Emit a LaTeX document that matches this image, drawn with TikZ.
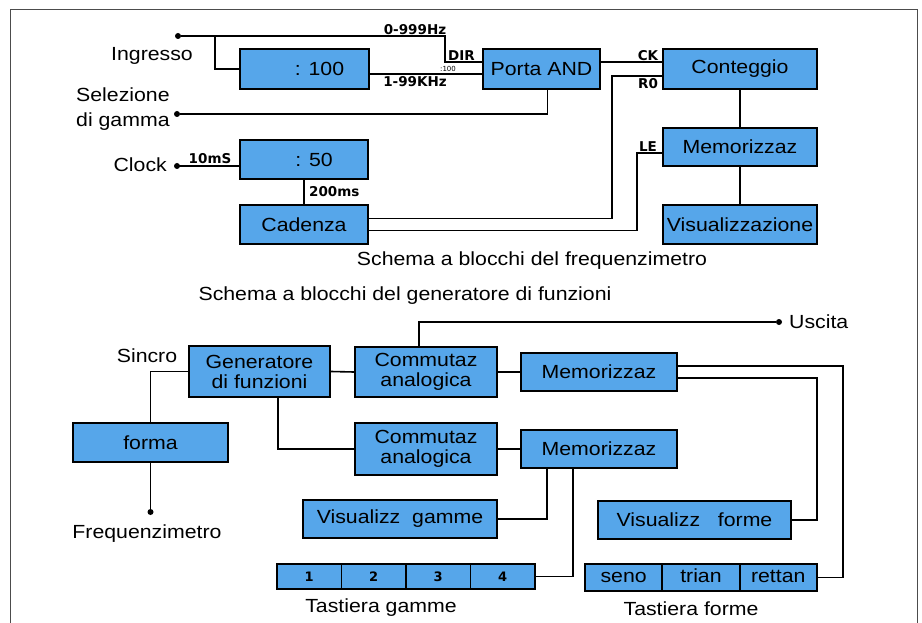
\documentclass[tikz,border=0pt]{standalone}
\usepackage{fontspec}
\setmainfont[FakeStretch=1.12]{Liberation Sans}
\newfontfamily\tagfont{DejaVu Sans}
\usepackage{xcolor}
\usetikzlibrary{positioning,calc}
\definecolor{boxblue}{RGB}{86,166,234}

\begin{document}
\begin{tikzpicture}[
    x=1pt, y=-1pt,
    block/.style={rectangle, draw, line width=1.8pt, fill=boxblue, inner sep=1pt, align=center,
                  font=\fontsize{19}{20}\selectfont},
    key/.style={block, text height=13pt, text depth=4pt},
    wire/.style={line width=1.6pt},
    dot/.style={circle, fill, inner sep=0pt, minimum size=6pt},
    txt/.style={font=\fontsize{19}{20}\selectfont, inner sep=1pt},
    tag/.style={font=\tagfont\bfseries\fontsize{13.5}{14}\selectfont, inner sep=1pt}
]
    \useasboundingbox (0,0) rectangle (922,623);
    \draw[line width=1pt, black!70] (10,623) -- (10,10) -- (917,10) -- (917,623);

    % frequenzimetro
    \node[block, minimum width=129pt, minimum height=40pt] (div100) at (304.5,69) {\hspace*{30pt}: 100};
    \node[block, minimum width=117pt, minimum height=40pt] (porta) at (541.5,69) {Porta AND};
    \node[block, minimum width=154pt, minimum height=40pt] (conteggio) at (740,69) {Conteggio};
    \node[block, minimum width=154pt, minimum height=38pt] (memo) at (740,147) {Memorizzaz};
    \node[block, minimum width=154pt, minimum height=39pt] (visual) at (740,224.5) {Visualizzazione};
    \node[block, minimum width=128pt, minimum height=39pt] (div50) at (304,159.5) {\hspace*{20pt}: 50};
    \node[block, minimum width=128pt, minimum height=39pt] (cadenza) at (304,224.5) {Cadenza};

    \node[dot] (ing) at (178,36) {};
    \node[dot] (sel) at (177,114) {};
    \node[dot] (clk) at (177,166) {};
    \node[txt, anchor=base] (ingtxt) at (152,61) {Ingresso};
    \node[txt, anchor=base west] (seltxt) at (75,102) {Selezione};
    \node[txt, anchor=base west] (gamtxt) at (75,127) {di gamma};
    \node[txt, anchor=base east] (clktxt) at (168,172) {Clock};

    \draw[wire] (ing) -| ([xshift=-37pt,yshift=7pt]porta.west) -- ([yshift=7pt]porta.west);
    \draw[wire] ([xshift=37pt]ing.center) |- (div100.west);
    \draw[wire] ([yshift=-5pt]div100.east) -- ([yshift=-5pt]porta.west);
    \draw[wire] (sel) -| ([xshift=6pt]porta.south);
    \draw[wire] ([yshift=7pt]porta.east) -- ([yshift=7pt]conteggio.west);
    \draw[wire] ([yshift=-7pt]conteggio.west) -- ++(-50,0) |- ([yshift=6pt]cadenza.east);
    \draw[wire] ([yshift=-6pt]memo.west) -- ++(-25,0) |- ([yshift=-6pt]cadenza.east);
    \draw[wire] (conteggio) -- (memo);
    \draw[wire] (memo) -- (visual);
    \draw[wire] (clk.center) -- (clk.center -| div50.west);
    \draw[wire] (div50) -- (cadenza);

    \node[tag, anchor=south] (hzlow) at (415,36) {0-999Hz};
    \node[tag, anchor=north] (hzhigh) at (415,75) {1-99KHz};
    \node[tag, anchor=south west] (dir) at (447,62) {DIR};
    \node[font=\tagfont\fontsize{7}{7}\selectfont, inner sep=0pt] (sub100) at (448,69) {:100};
    \node[tag, anchor=south] (ck) at (648,62) {CK};
    \node[tag, anchor=north] (rz) at (648,77) {R0};
    \node[tag, anchor=south] (le) at (648,153) {LE};
    \node[tag, anchor=south] (tenms) at (210,165) {10mS};
    \node[tag, anchor=west] (twoms) at (308,192) {200ms};

    \node[txt] (cap1) at (532,261) {Schema a blocchi del frequenzimetro};

    % generatore di funzioni
    \node[txt] (cap2) at (405,296) {Schema a blocchi del generatore di funzioni};

    \node[block, minimum width=141pt, minimum height=51pt] (gen) at (259.5,371.5) {Generatore\\di funzioni};
    \node[block, minimum width=142pt, minimum height=50pt] (comm1) at (426,372) {Commutaz\\analogica};
    \node[block, minimum width=156pt, minimum height=38pt] (mem1) at (599,372) {Memorizzaz};
    \node[block, minimum width=142pt, minimum height=52pt] (comm2) at (426,449) {Commutaz\\analogica};
    \node[block, minimum width=156pt, minimum height=38pt] (mem2) at (599,449) {Memorizzaz};
    \node[block, minimum width=155pt, minimum height=39pt] (forma) at (150.5,442.5) {forma};
    \node[block, minimum width=194pt, minimum height=38pt] (visg) at (400,519) {Visualizz\ \ gamme};
    \node[block, minimum width=193pt, minimum height=38pt] (visf) at (694.5,520) {Visualizz\ \ \ forme};

    \foreach \k [count=\i] in {1,2,3,4}
        \node[block, minimum width=64.5pt, minimum height=25pt, font=\tagfont\bfseries\fontsize{13}{13}\selectfont]
            (kg\i) at ({277+64.5*(\i-0.5)},576.5) {\k};
    \foreach \k [count=\i] in {seno,trian,rettan}
        \node[key, minimum width=77.3pt, minimum height=27pt] (kf\i) at ({585+77.3*(\i-0.5)},577.5) {\k};

    \node[dot] (usc) at (779,322) {};
    \node[dot] (fq) at (150.5,512) {};
    \node[txt, anchor=west] (usctxt) at (788,322) {Uscita};
    \node[txt] (sintxt) at (147,356) {Sincro};
    \node[txt] (fqtxt) at (147,534) {Frequenzimetro};
    \node[txt] (tgam) at (381,608) {Tastiera gamme};
    \node[txt] (tfor) at (691,609) {Tastiera forme};

    \draw[wire] (gen.west) -| (forma.north);
    \draw[wire] (forma) -- (fq);
    \draw[wire] (gen.east) -- (comm1.west);
    \draw[wire] ([xshift=18.5pt]gen.south) |- (comm2.west);
    \draw[wire] ([xshift=-7pt]comm1.north) |- (usc);
    \draw[wire] (comm1.east) -- (mem1.west);
    \draw[wire] (comm2.east) -- (mem2.west);
    \draw[wire] ([yshift=6pt]mem1.east) -- ++(165,0) |- (kf3.east);
    \draw[wire] ([yshift=-6pt]mem1.east) -- ++(139,0) |- (visf.east);
    \draw[wire] ([xshift=-52pt]mem2.south) |- (visg.east);
    \draw[wire] ([xshift=-26pt]mem2.south) |- (kg4.east);
\end{tikzpicture}
\end{document}
